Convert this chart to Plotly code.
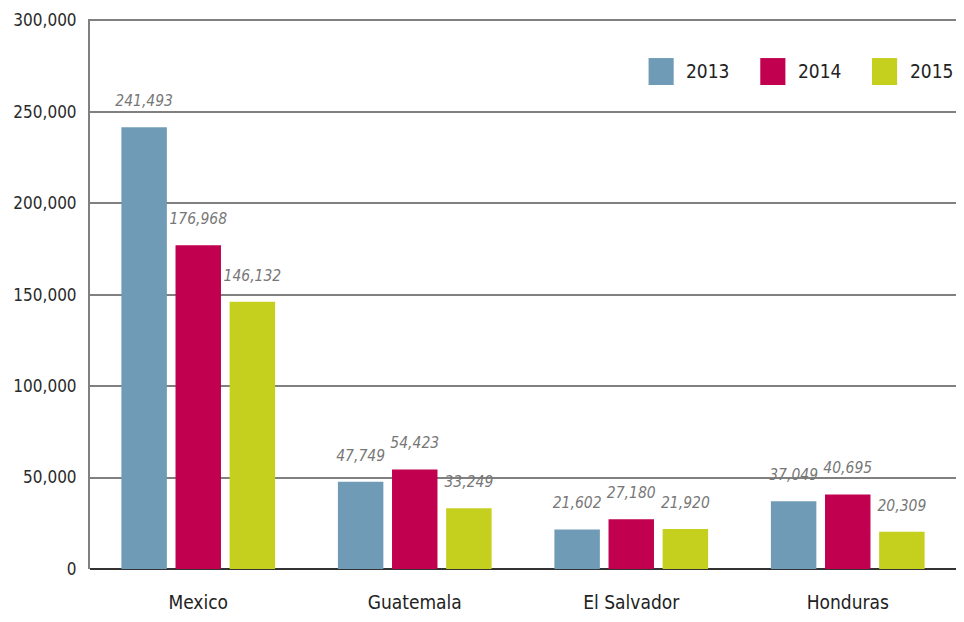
import plotly.graph_objects as go

countries = ["Mexico", "Guatemala", "El Salvador", "Honduras"]
years = ["2013", "2014", "2015"]
values_2013 = [241493, 47749, 21602, 37049]
values_2014 = [176968, 54423, 27180, 40695]
values_2015 = [146132, 33249, 21920, 20309]
series = [values_2013, values_2014, values_2015]
colors = ["#6f9bb7", "#c1004f", "#c5d01e"]
y_ticks = [0, 50000, 100000, 150000, 200000, 250000, 300000]
y_tick_labels = ["0", "50,000", "100,000", "150,000", "200,000", "250,000", "300,000"]

FONT = "Liberation Sans Narrow, DejaVu Sans Condensed, Arial Narrow, sans-serif"

fig = go.Figure()
for yr, vals, col in zip(years, series, colors):
    fig.add_trace(go.Bar(
        x=countries, y=vals, name=yr, marker_color=col, marker_line_width=0,
        offsetgroup=yr, showlegend=False, hoverinfo="x+y",
    ))
for yr, vals in zip(years, series):
    fig.add_trace(go.Scatter(
        x=countries, y=vals, mode="markers+text", offsetgroup=yr,
        text=[f"{v:,}" for v in vals], textposition="top center",
        marker=dict(size=26, opacity=0), cliponaxis=False,
        textfont=dict(family=FONT, size=15.5, color="#777777", style="italic"),
        showlegend=False, hoverinfo="skip",
    ))

# legend drawn as boxes + labels at top right
leg_x = [0.645, 0.774, 0.903]
for yr, col, lx in zip(years, colors, leg_x):
    fig.add_shape(type="rect", xref="paper", yref="paper",
                  x0=lx, x1=lx + 0.029, y0=0.88, y1=0.929,
                  fillcolor=col, line_width=0)
    fig.add_annotation(xref="paper", yref="paper", x=lx + 0.041, y=0.905,
                       text=yr, showarrow=False, xanchor="left", yanchor="middle",
                       font=dict(family=FONT, size=19, color="#222"))

fig.update_layout(
    width=948, height=606,
    margin=dict(l=82, r=0, t=11, b=45, autoexpand=False),
    paper_bgcolor="white", plot_bgcolor="white",
    barmode="group", bargap=0.25, bargroupgap=0.16,
    scattermode="group", scattergap=0.25,
    font=dict(family=FONT, color="#333"),
)
fig.update_xaxes(
    showgrid=False, showline=False, ticks="", automargin=False,
    tickfont=dict(family=FONT, size=19, color="#222"),
    ticklabelstandoff=20,
    range=[-0.5, 3.5],
)
fig.update_yaxes(
    range=[0, 300600], tickvals=y_ticks, ticktext=y_tick_labels,
    showgrid=True, gridcolor="#808080", gridwidth=1.5,
    showline=True, linecolor="#808080", linewidth=2,
    zeroline=True, zerolinecolor="#333", zerolinewidth=2,
    ticks="", ticklabelstandoff=8, automargin=False,
    tickfont=dict(family=FONT, size=17, color="#2a2a2a"),
)
fig.write_html("out.html")
